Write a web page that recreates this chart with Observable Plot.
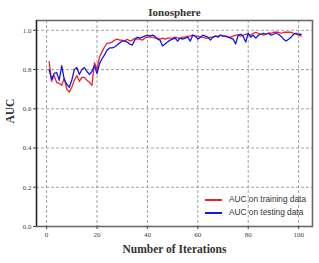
<!DOCTYPE html>
<html>
<head>
<meta charset="utf-8">
<script src="https://cdn.jsdelivr.net/npm/d3@7"></script>
<script src="https://cdn.jsdelivr.net/npm/@observablehq/plot@0.6"></script>
<style>
  html, body { margin: 0; padding: 0; background: #fff; }
  #wrap { position: relative; width: 319px; height: 263px; }
  #legend { position: absolute; left: 205px; top: 193px; font-family: "Liberation Sans", Arial, sans-serif; font-size: 8.3px; color: #333; line-height: 13px; }
  #legend .row { display: flex; align-items: center; height: 13px; }
  #legend .sw { display: inline-block; flex: 0 0 17px; width: 17px; height: 2px; margin-right: 7px; }
</style>
</head>
<body>
<div id="wrap">
  <div id="legend"></div>
</div>
<script>
const title = "Ionosphere";
const xLabel = "Number of Iterations";
const yLabel = "AUC";
const seriesNames = ["AUC on training data", "AUC on testing data"];
const seriesColors = ["#e8262a", "#1414f0"];
const xTicks = [0, 20, 40, 60, 80, 100];
const yTicks = [0, 0.2, 0.4, 0.6, 0.8, 1.0];

const iterations = d3.range(1, 102);
const trainAUC = [
  0.84, 0.74, 0.77, 0.735, 0.73, 0.72, 0.755, 0.70, 0.685, 0.71,
  0.745, 0.77, 0.74, 0.76, 0.76, 0.745, 0.735, 0.72, 0.835, 0.80,
  0.865, 0.89, 0.915, 0.935, 0.935, 0.94, 0.95, 0.955, 0.95, 0.95,
  0.945, 0.955, 0.945, 0.95, 0.96, 0.955, 0.955, 0.95, 0.96, 0.965,
  0.965, 0.965, 0.96, 0.96, 0.955, 0.96, 0.955, 0.96, 0.96, 0.96,
  0.965, 0.96, 0.96, 0.965, 0.965, 0.97, 0.97, 0.975, 0.97, 0.97,
  0.965, 0.965, 0.96, 0.96, 0.965, 0.965, 0.97, 0.97, 0.975, 0.97,
  0.97, 0.965, 0.965, 0.97, 0.975, 0.975, 0.97, 0.975, 0.98, 0.98,
  0.975, 0.985, 0.99, 0.985, 0.98, 0.975, 0.98, 0.985, 0.985, 0.99,
  0.99, 0.99, 0.985, 0.99, 0.99, 0.99, 0.99, 0.985, 0.98, 0.975,
  0.97
];
const testAUC = [
  0.80, 0.75, 0.78, 0.785, 0.745, 0.82, 0.75, 0.725, 0.71, 0.745,
  0.80, 0.81, 0.775, 0.80, 0.81, 0.79, 0.775, 0.79, 0.82, 0.78,
  0.83, 0.855, 0.875, 0.90, 0.91, 0.91, 0.915, 0.925, 0.935, 0.945,
  0.945, 0.94, 0.93, 0.925, 0.95, 0.965, 0.96, 0.965, 0.97, 0.975,
  0.97, 0.975, 0.97, 0.955, 0.95, 0.92, 0.93, 0.94, 0.95, 0.955,
  0.96, 0.945, 0.96, 0.955, 0.96, 0.965, 0.945, 0.975, 0.97, 0.955,
  0.965, 0.975, 0.97, 0.965, 0.95, 0.965, 0.97, 0.965, 0.975, 0.97,
  0.97, 0.965, 0.96, 0.955, 0.93, 0.975, 0.98, 0.97, 0.94, 0.985,
  0.965, 0.975, 0.96, 0.975, 0.98, 0.985, 0.98, 0.985, 0.975, 0.98,
  0.985, 0.98, 0.97, 0.955, 0.945, 0.955, 0.965, 0.98, 0.985, 0.98,
  0.98
];

const train = iterations.map((x, i) => ({x, y: trainAUC[i]}));
const test = iterations.map((x, i) => ({x, y: testAUC[i]}));

const serif = "'Liberation Serif', 'Times New Roman', serif";

const chart = Plot.plot({
  width: 319,
  height: 263,
  marginTop: 20,
  marginRight: 7,
  marginBottom: 37,
  marginLeft: 36,
  style: { fontFamily: serif, background: "transparent" },
  x: { domain: [-4, 105.5] },
  y: { domain: [0, 1.05] },
  marks: [
    Plot.gridX(xTicks, { stroke: "#8a8a8a", strokeOpacity: 1, strokeDasharray: "3,2", strokeWidth: 0.8 }),
    Plot.gridY(yTicks, { stroke: "#8a8a8a", strokeOpacity: 1, strokeDasharray: "3,2", strokeWidth: 0.8 }),
    Plot.line(train, { x: "x", y: "y", stroke: seriesColors[0], strokeWidth: 1.3 }),
    Plot.line(test, { x: "x", y: "y", stroke: seriesColors[1], strokeWidth: 1.3 }),
    Plot.frame({ stroke: "#6a6a6a", strokeWidth: 1.6 }),
    Plot.ruleX([-4], { stroke: "#222", strokeWidth: 1.2 }),
    Plot.axisX(xTicks, { tickSize: 3, tickPadding: 3, fontSize: 7, fill: "#444", stroke: "#444", label: null, fontFamily: serif }),
    Plot.axisY(yTicks, { tickSize: 3, tickPadding: 2, fontSize: 7, fill: "#444", stroke: "#444", label: null, tickFormat: d3.format(".1f"), fontFamily: serif }),
    Plot.text([title], { text: d => d, frameAnchor: "top", dy: -8, lineAnchor: "middle", fontSize: 11, fontWeight: "bold", fill: "#333", fontFamily: serif }),
    Plot.text([xLabel], { text: d => d, frameAnchor: "bottom", dy: 23, lineAnchor: "middle", fontSize: 11.5, fontWeight: "bold", fill: "#333", fontFamily: serif }),
    Plot.text([yLabel], { text: d => d, frameAnchor: "left", dx: -26, rotate: -90, lineAnchor: "middle", fontSize: 11.5, fontWeight: "bold", fill: "#333", fontFamily: serif })
  ]
});

const wrap = document.getElementById("wrap");
wrap.insertBefore(chart, wrap.firstChild);

const legend = document.getElementById("legend");
seriesNames.forEach((name, i) => {
  const row = document.createElement("div");
  row.className = "row";
  const sw = document.createElement("span");
  sw.className = "sw";
  sw.style.background = seriesColors[i];
  const t = document.createElement("span");
  t.textContent = name;
  row.appendChild(sw);
  row.appendChild(t);
  legend.appendChild(row);
});
</script>
</body>
</html>
